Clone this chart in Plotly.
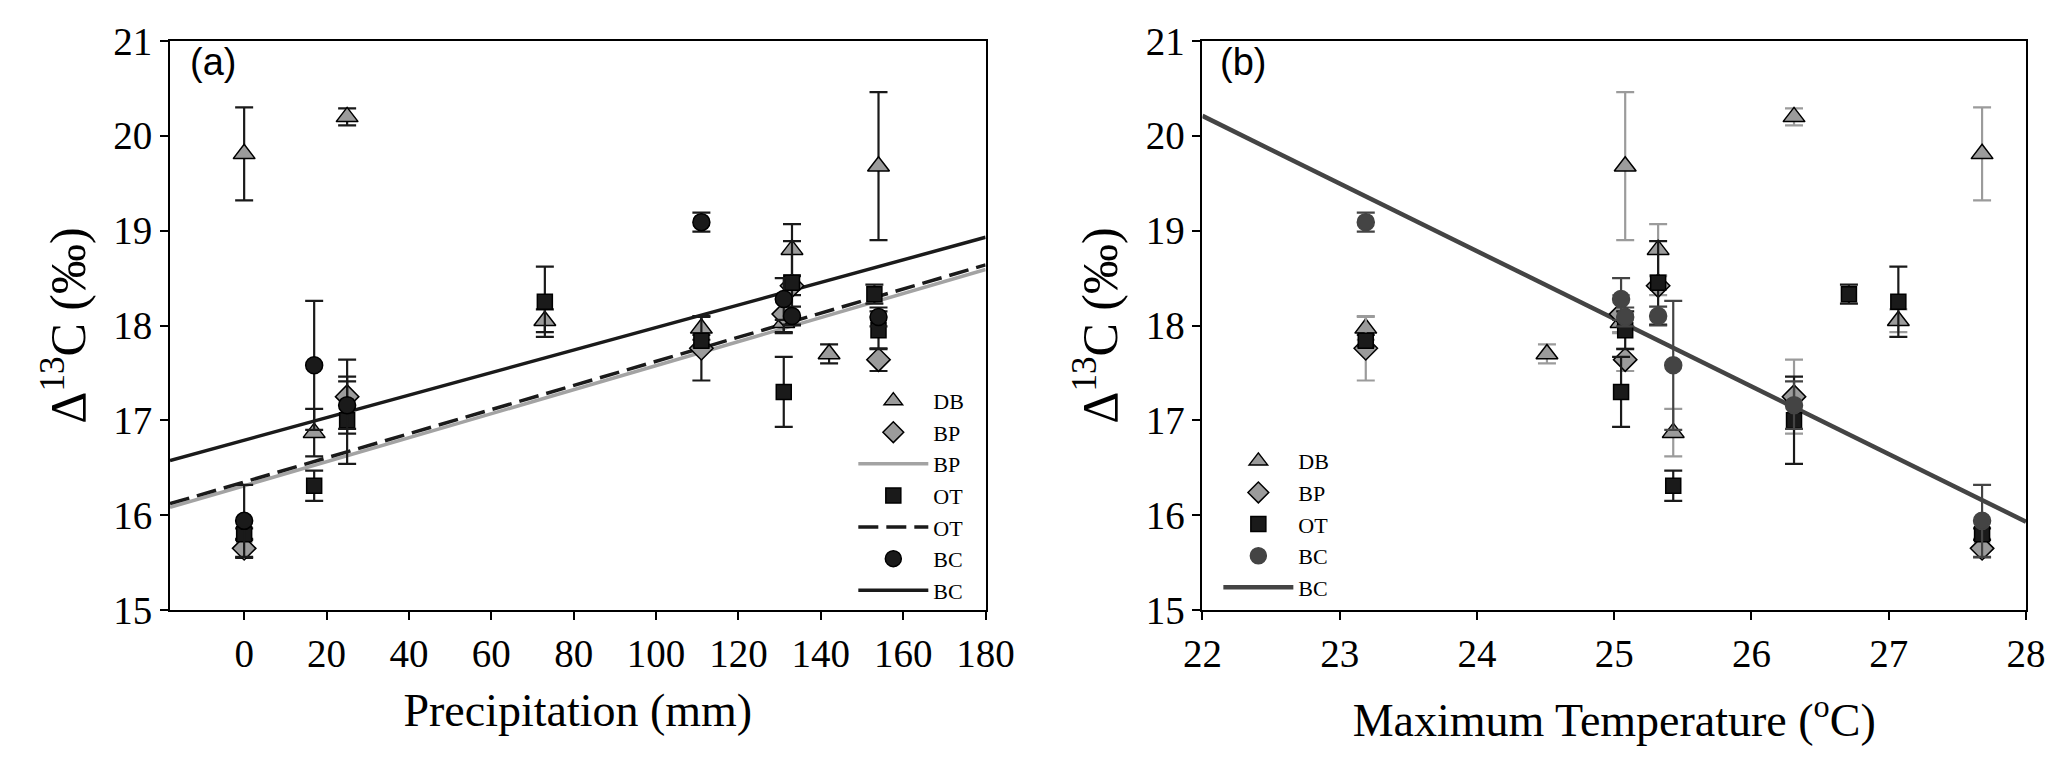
import plotly.graph_objects as go

# ---------------- data ----------------
site_precip = [0, 17, 25, 73, 111, 131, 133, 142, 154, 153]
site_tmax = [27.68, 25.43, 26.31, 27.07, 23.19, 25.05, 25.32, 24.51, 25.08, 26.71]

db_val = [19.81, 16.87, 20.20, 18.05, 17.97, 18.03, 18.80, 17.70, 19.68, None]
db_err = [0.49, 0.25, 0.09, 0.12, 0.12, 0.10, 0.27, 0.10, 0.78, None]
bp_val = [15.65, None, 17.25, None, 17.76, 18.12, 18.42, None, 17.64, None]
bp_err = [0.10, None, 0.39, None, 0.34, 0.20, 0.10, None, 0.12, None]
ot_val = [15.80, 16.31, 17.00, 18.25, 17.84, 17.30, 18.45, None, 17.95, 18.33]
ot_err = [0.06, 0.16, 0.46, 0.37, 0.06, 0.37, 0.44, None, 0.20, 0.10]
bc_val = [15.94, 17.58, 17.16, None, 19.09, 18.28, 18.10, None, 18.09, None]
bc_err = [0.38, 0.68, 0.25, None, 0.10, 0.22, 0.10, None, 0.10, None]

# regression fits (intercept, slope)
fit_a_names = ["BP", "OT", "BC"]
fit_a_intercept = [16.31, 16.35, 16.79]
fit_a_slope = [0.01267, 0.01272, 0.01189]
fit_b_intercept = 35.903
fit_b_slope = -0.7133

precip_range = [-18, 180]
tmax_range = [22, 28]
precip_ticks = [0, 20, 40, 60, 80, 100, 120, 140, 160, 180]
tmax_ticks = [22, 23, 24, 25, 26, 27, 28]
y_ticks = [15, 16, 17, 18, 19, 20, 21]

# ---------------- style ----------------
OFF = 8                      # page body margin
KX = 1.0095                  # horizontal correction observed in the capture
W, H = 2059, 764
A_L, A_R, B_L, B_R, P_T, P_B = 168, 988, 1206, 2034, 34, 610
ML, MT = A_L * KX - OFF, P_T - OFF
MR = W - (B_R * KX - OFF)
MB = H - (P_B - OFF)
PW, PH = W - ML - MR, H - MT - MB
GRAY = "#9b9b9b"
BLACK = "#1a1a1a"
DARK = "#444444"
SERIF = "Liberation Serif"


def px(xs):
    return (xs * KX - OFF - ML) / PW


def py(ys):
    return (H - MB - (ys - OFF)) / PH


def sel(xs, vals, errs):
    x, y, e = [], [], []
    for a, v, s in zip(xs, vals, errs):
        if v is not None:
            x.append(a); y.append(v); e.append(s)
    return x, y, e


fig = go.Figure()

line_styles = {"BP": dict(color="#a3a3a3", width=3.5),
               "OT": dict(color=BLACK, width=3.5, dash="20px,8px"),
               "BC": dict(color=BLACK, width=3.5)}
for n, a, b in zip(fit_a_names, fit_a_intercept, fit_a_slope):
    fig.add_trace(go.Scatter(x=precip_range, y=[a + b * v for v in precip_range],
                             mode="lines", name=n, line=line_styles[n],
                             xaxis="x", yaxis="y", legend="legend"))

series = [
    ("DB", db_val, db_err, "triangle-up", GRAY, 19, GRAY),
    ("BP", bp_val, bp_err, "diamond", GRAY, 18, GRAY),
    ("OT", ot_val, ot_err, "square", BLACK, 15, BLACK),
    ("BC", bc_val, bc_err, "circle", BLACK, 17, DARK),
]

# panel a markers
for name, vals, errs, sym, col, size, colb in series:
    x, y, e = sel(site_precip, vals, errs)
    fig.add_trace(go.Scatter(
        x=x, y=y, mode="markers", name=name, xaxis="x", yaxis="y", legend="legend",
        marker=dict(symbol=sym, size=size, color=col, line=dict(color="black", width=1.5)),
        error_y=dict(type="data", array=e, visible=True, color=BLACK, thickness=2.2, width=9),
    ))

# panel b line
fig.add_trace(go.Scatter(
    x=tmax_range, y=[fit_b_intercept + fit_b_slope * t for t in tmax_range],
    mode="lines", name="BC", line=dict(color=DARK, width=4.5),
    xaxis="x2", yaxis="y2", legend="legend2", showlegend=False))

# panel b markers
for name, vals, errs, sym, col, size, colb in series:
    x, y, e = sel(site_tmax, vals, errs)
    mcol = DARK if name == "BC" else col
    fig.add_trace(go.Scatter(
        x=x, y=y, mode="markers", name=name, xaxis="x2", yaxis="y2", legend="legend2",
        marker=dict(symbol=sym, size=size, color=mcol,
                    line=dict(color="black" if name != "BC" else DARK, width=1.5)),
        error_y=dict(type="data", array=e, visible=True, color=colb, thickness=2.2, width=9),
    ))
# legend entry for the panel b line
fig.add_trace(go.Scatter(
    x=[None], y=[None], mode="lines", name="BC", line=dict(color=DARK, width=4.5),
    xaxis="x2", yaxis="y2", legend="legend2"))

order_a = {"DBm": 1, "BPm": 2, "BPl": 3, "OTm": 4, "OTl": 5, "BCm": 6, "BCl": 7}
for tr in fig.data:
    if tr.legend == "legend":
        tr.legendrank = order_a[tr.name + ("l" if tr.mode == "lines" else "m")]
    else:
        tr.legendrank = 10 if tr.mode == "markers" else 20

axis_common = dict(showgrid=False, zeroline=False, showline=True, linecolor="black",
                   linewidth=2, mirror=True, ticks="outside", ticklen=8, tickwidth=2,
                   tickcolor="black", automargin=True,
                   tickfont=dict(family=SERIF, size=39, color="black"))
title_font = dict(family=SERIF, size=46, color="black")
ytitle_font = dict(family=SERIF, size=50, color="black")
legend_common = dict(xanchor="left", yanchor="top", bgcolor="rgba(0,0,0,0)",
                     font=dict(family=SERIF, size=22, color="black"),
                     traceorder="normal", itemwidth=70)

fig.update_layout(
    template="none",
    font=dict(family=SERIF, color="black"),
    width=W, height=H, margin=dict(l=ML, r=MR, t=MT, b=MB),
    paper_bgcolor="white", plot_bgcolor="white",
    xaxis=dict(domain=[0, px(A_R)], range=precip_range, tickvals=precip_ticks, anchor="y",
               title=dict(text="Precipitation (mm)", font=title_font, standoff=20),
               **axis_common),
    yaxis=dict(domain=[0, 1], range=[15, 21], tickvals=y_ticks, anchor="x",
               ticksuffix="\u00a0",
               title=dict(text="Δ<sup>13</sup>C (‰)", font=ytitle_font, standoff=12),
               **axis_common),
    xaxis2=dict(domain=[px(B_L), 1], range=tmax_range, tickvals=tmax_ticks, anchor="y2",
                title=dict(text="Maximum Temperature (<sup>o</sup>C)", font=title_font, standoff=30),
                **axis_common),
    yaxis2=dict(domain=[0, 1], range=[15, 21], tickvals=y_ticks, anchor="x2",
                ticksuffix="\u00a0",
                title=dict(text="Δ<sup>13</sup>C (‰)", font=ytitle_font, standoff=12),
                **axis_common),
    legend=dict(x=px(855), y=py(377), **legend_common),
    legend2=dict(x=px(1222), y=py(438), **legend_common),
    annotations=[
        dict(text="(a)", x=px(186), y=py(55), xref="paper", yref="paper",
             xanchor="left", yanchor="middle", showarrow=False,
             font=dict(family="Liberation Sans", size=38, color="black")),
        dict(text="(b)", x=px(1222), y=py(55), xref="paper", yref="paper",
             xanchor="left", yanchor="middle", showarrow=False,
             font=dict(family="Liberation Sans", size=38, color="black")),
    ],
    showlegend=True,
)

fig.write_html("out.html")
